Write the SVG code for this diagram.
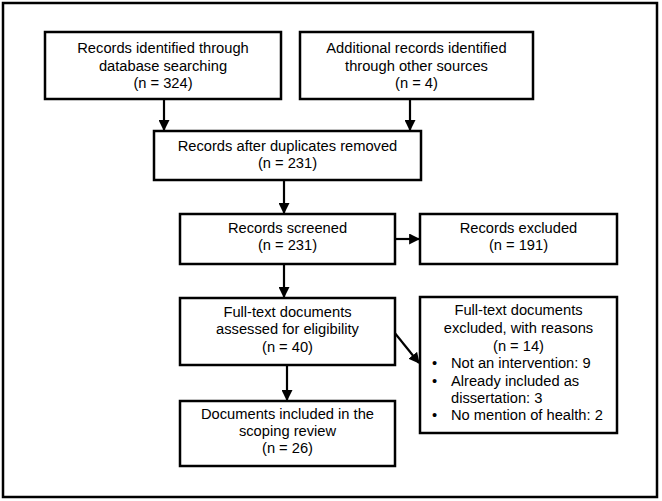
<svg xmlns="http://www.w3.org/2000/svg" width="662" height="501" viewBox="0 0 662 501">
<defs>
<style>
.box{fill:#fff;stroke:#000;stroke-width:2.5}
.t{font-family:"Liberation Sans",Arial,sans-serif;font-size:14.7px;fill:#000;text-anchor:middle}
.l{text-anchor:start}
.c{stroke:#000;stroke-width:2.2;fill:none;marker-end:url(#ah)}
</style>
<marker id="ah" viewBox="0 0 10 10" refX="9" refY="5" markerWidth="5" markerHeight="5" orient="auto" markerUnits="strokeWidth">
<path d="M0,0 L10,5 L0,10 z" fill="#000"/>
</marker>
</defs>
<rect width="662" height="501" fill="#fff"/>
<rect x="3" y="3" width="654" height="494" fill="none" stroke="#000" stroke-width="2.5"/>
<g id="connectors">
<line class="c" x1="164" y1="99" x2="164" y2="130"/>
<line class="c" x1="410" y1="99" x2="410" y2="130"/>
<line class="c" x1="284" y1="180" x2="284" y2="213"/>
<line class="c" x1="395" y1="239" x2="419" y2="239"/>
<line class="c" x1="284" y1="264" x2="284" y2="297"/>
<line class="c" x1="394" y1="332" x2="419" y2="363"/>
<line class="c" x1="287" y1="365" x2="287" y2="400"/>
</g>
<g id="n1"><rect class="box" x="45" y="32" width="236" height="67"/>
<text class="t" x="163" y="53">Records identified through</text>
<text class="t" x="163" y="71">database searching</text>
<text class="t" x="163" y="88">(n = 324)</text></g>
<g id="n2"><rect class="box" x="300" y="32" width="233" height="67"/>
<text class="t" x="416.5" y="53">Additional records identified</text>
<text class="t" x="416.5" y="71">through other sources</text>
<text class="t" x="416.5" y="88">(n = 4)</text></g>
<g id="n3"><rect class="box" x="154" y="131" width="267" height="49"/>
<text class="t" x="287.5" y="151">Records after duplicates removed</text>
<text class="t" x="287.5" y="168">(n = 231)</text></g>
<g id="n4"><rect class="box" x="180" y="214" width="215" height="50"/>
<text class="t" x="287.5" y="233">Records screened</text>
<text class="t" x="287.5" y="250">(n = 231)</text></g>
<g id="n5"><rect class="box" x="420" y="214" width="197" height="50"/>
<text class="t" x="518.5" y="233">Records excluded</text>
<text class="t" x="518.5" y="250">(n = 191)</text></g>
<g id="n6"><rect class="box" x="180" y="298" width="215" height="67"/>
<text class="t" x="287.5" y="317">Full-text documents</text>
<text class="t" x="287.5" y="334">assessed for eligibility</text>
<text class="t" x="287.5" y="352">(n = 40)</text></g>
<g id="n7"><rect class="box" x="420" y="297" width="197" height="136"/>
<text class="t" x="518.5" y="315">Full-text documents</text>
<text class="t" x="518.5" y="333">excluded, with reasons</text>
<text class="t" x="518.5" y="351">(n = 14)</text>
<text class="t l" x="432" y="368">•</text><text class="t l" x="451" y="368">Not an intervention: 9</text>
<text class="t l" x="432" y="386">•</text><text class="t l" x="451" y="386">Already included as</text>
<text class="t l" x="451" y="403">dissertation: 3</text>
<text class="t l" x="432" y="420">•</text><text class="t l" x="451" y="420">No mention of health: 2</text></g>
<g id="n8"><rect class="box" x="180" y="401" width="215" height="65"/>
<text class="t" x="287.5" y="419">Documents included in the</text>
<text class="t" x="287.5" y="436">scoping review</text>
<text class="t" x="287.5" y="453">(n = 26)</text></g>
</svg>
